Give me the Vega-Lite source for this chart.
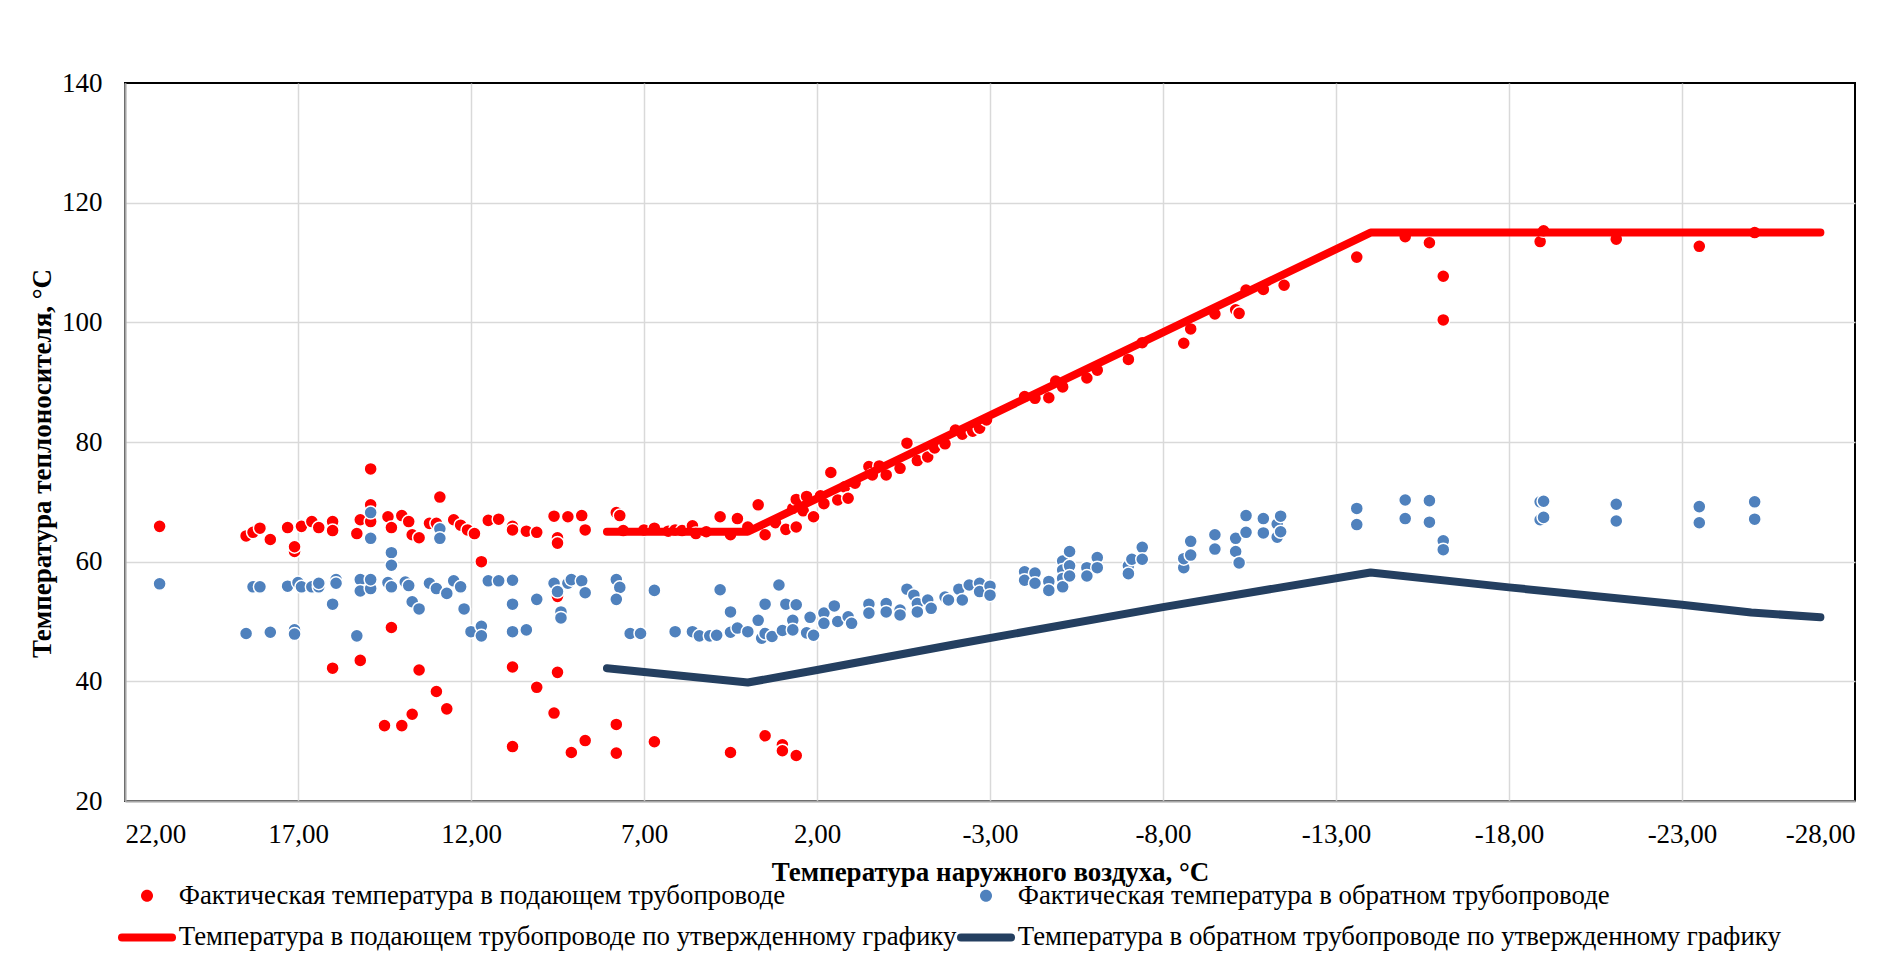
{
  "$schema": "https://vega.github.io/schema/vega-lite/v6.json",
  "width": 1730,
  "height": 718,
  "autosize": {"type": "none"},
  "padding": {"left": 125, "top": 83, "right": 37, "bottom": 172},
  "background": "white",
  "config": {
    "font": "Liberation Serif",
    "view": {"stroke": "#000000", "strokeWidth": 2},
    "axis": {
      "gridColor": "#D9D9D9", "gridWidth": 1.5,
      "domainColor": "#A6A6A6", "domainWidth": 2,
      "ticks": false,
      "labelFont": "Liberation Serif", "labelFontSize": 27, "labelColor": "#000000",
      "titleFont": "Liberation Serif", "titleFontSize": 27, "titleFontWeight": "bold", "titleColor": "#000000"
    }
  },
  "datasets": {
    "fact": [
      {"t":21.0,"v":65.9,"s":"A"},{"t":18.5,"v":64.3,"s":"A"},{"t":18.3,"v":64.9,"s":"A"},{"t":18.1,"v":65.6,"s":"A"},
      {"t":17.8,"v":63.7,"s":"A"},{"t":17.3,"v":65.7,"s":"A"},{"t":17.1,"v":61.7,"s":"A"},{"t":17.1,"v":62.5,"s":"A"},
      {"t":16.9,"v":65.9,"s":"A"},{"t":16.6,"v":66.7,"s":"A"},{"t":16.4,"v":65.7,"s":"A"},{"t":16.0,"v":66.1,"s":"A"},
      {"t":16.0,"v":66.7,"s":"A"},{"t":16.0,"v":65.2,"s":"A"},{"t":15.3,"v":64.7,"s":"A"},{"t":15.2,"v":67.0,"s":"A"},
      {"t":14.9,"v":75.5,"s":"A"},{"t":14.9,"v":69.5,"s":"A"},{"t":14.9,"v":66.7,"s":"A"},{"t":14.4,"v":67.5,"s":"A"},
      {"t":14.3,"v":65.7,"s":"A"},{"t":14.0,"v":67.7,"s":"A"},{"t":13.8,"v":66.7,"s":"A"},{"t":13.7,"v":64.5,"s":"A"},
      {"t":13.5,"v":64.0,"s":"A"},{"t":13.2,"v":66.4,"s":"A"},{"t":12.9,"v":70.8,"s":"A"},{"t":13.0,"v":66.4,"s":"A"},
      {"t":12.5,"v":67.0,"s":"A"},{"t":12.3,"v":66.1,"s":"A"},{"t":12.1,"v":65.3,"s":"A"},{"t":11.9,"v":64.7,"s":"A"},
      {"t":11.7,"v":60.0,"s":"A"},{"t":11.5,"v":66.9,"s":"A"},{"t":11.2,"v":67.1,"s":"A"},{"t":10.8,"v":65.9,"s":"A"},
      {"t":10.8,"v":65.3,"s":"A"},{"t":10.4,"v":65.1,"s":"A"},{"t":10.1,"v":64.9,"s":"A"},{"t":9.6,"v":67.6,"s":"A"},
      {"t":9.5,"v":64.0,"s":"A"},{"t":9.5,"v":63.1,"s":"A"},{"t":9.2,"v":67.5,"s":"A"},{"t":8.8,"v":67.7,"s":"A"},
      {"t":8.7,"v":65.3,"s":"A"},{"t":7.8,"v":68.2,"s":"A"},{"t":7.7,"v":67.7,"s":"A"},{"t":7.6,"v":65.2,"s":"A"},
      {"t":7.0,"v":65.3,"s":"A"},{"t":9.5,"v":54.2,"s":"A"},{"t":16.0,"v":42.2,"s":"A"},{"t":15.2,"v":43.5,"s":"A"},
      {"t":14.3,"v":49.0,"s":"A"},{"t":13.5,"v":41.9,"s":"A"},{"t":13.0,"v":38.3,"s":"A"},{"t":12.7,"v":35.4,"s":"A"},
      {"t":13.7,"v":34.5,"s":"A"},{"t":14.0,"v":32.6,"s":"A"},{"t":14.5,"v":32.6,"s":"A"},{"t":10.8,"v":42.4,"s":"A"},
      {"t":10.1,"v":39.0,"s":"A"},{"t":9.6,"v":34.7,"s":"A"},{"t":9.5,"v":41.5,"s":"A"},{"t":10.8,"v":29.1,"s":"A"},
      {"t":9.1,"v":28.1,"s":"A"},{"t":8.7,"v":30.1,"s":"A"},{"t":7.8,"v":32.8,"s":"A"},{"t":7.8,"v":28.0,"s":"A"},
      {"t":6.7,"v":65.6,"s":"A"},{"t":6.3,"v":65.1,"s":"A"},{"t":6.1,"v":65.3,"s":"A"},{"t":5.9,"v":65.2,"s":"A"},
      {"t":5.6,"v":66.0,"s":"A"},{"t":5.5,"v":64.7,"s":"A"},{"t":5.2,"v":65.0,"s":"A"},{"t":4.8,"v":67.5,"s":"A"},
      {"t":4.5,"v":64.5,"s":"A"},{"t":4.3,"v":67.2,"s":"A"},{"t":4.0,"v":65.8,"s":"A"},{"t":3.7,"v":69.5,"s":"A"},
      {"t":3.5,"v":64.5,"s":"A"},{"t":3.2,"v":66.5,"s":"A"},{"t":2.9,"v":65.4,"s":"A"},{"t":2.7,"v":68.9,"s":"A"},
      {"t":2.6,"v":70.4,"s":"A"},{"t":2.6,"v":65.8,"s":"A"},{"t":2.4,"v":68.5,"s":"A"},{"t":2.3,"v":70.9,"s":"A"},
      {"t":2.1,"v":67.5,"s":"A"},{"t":1.9,"v":71.0,"s":"A"},{"t":1.8,"v":69.7,"s":"A"},{"t":1.6,"v":74.9,"s":"A"},
      {"t":1.4,"v":70.3,"s":"A"},{"t":1.2,"v":72.5,"s":"A"},{"t":1.1,"v":70.6,"s":"A"},{"t":0.9,"v":73.1,"s":"A"},
      {"t":0.5,"v":75.9,"s":"A"},{"t":0.4,"v":74.5,"s":"A"},{"t":0.2,"v":76.0,"s":"A"},{"t":0.0,"v":74.5,"s":"A"},
      {"t":-0.4,"v":75.6,"s":"A"},{"t":-0.6,"v":79.8,"s":"A"},{"t":-0.9,"v":76.9,"s":"A"},{"t":-1.2,"v":77.5,"s":"A"},
      {"t":-1.4,"v":79.0,"s":"A"},{"t":-1.7,"v":79.7,"s":"A"},{"t":-2.0,"v":82.0,"s":"A"},{"t":-2.2,"v":81.3,"s":"A"},
      {"t":-2.5,"v":81.8,"s":"A"},{"t":-2.7,"v":82.3,"s":"A"},{"t":-2.9,"v":83.7,"s":"A"},{"t":-4.0,"v":87.6,"s":"A"},
      {"t":-4.3,"v":87.3,"s":"A"},{"t":-4.7,"v":87.4,"s":"A"},{"t":-4.9,"v":90.2,"s":"A"},{"t":-5.1,"v":89.2,"s":"A"},
      {"t":-5.8,"v":90.7,"s":"A"},{"t":-6.1,"v":92.0,"s":"A"},{"t":-7.0,"v":93.8,"s":"A"},{"t":-7.4,"v":96.6,"s":"A"},
      {"t":6.7,"v":29.9,"s":"A"},{"t":4.5,"v":28.1,"s":"A"},{"t":3.5,"v":30.9,"s":"A"},{"t":3.0,"v":29.4,"s":"A"},
      {"t":3.0,"v":28.4,"s":"A"},{"t":2.6,"v":27.6,"s":"A"},{"t":-8.6,"v":96.5,"s":"A"},{"t":-8.8,"v":98.9,"s":"A"},
      {"t":-9.5,"v":101.4,"s":"A"},{"t":-10.1,"v":102.1,"s":"A"},{"t":-10.2,"v":101.5,"s":"A"},{"t":-10.4,"v":105.4,"s":"A"},
      {"t":-10.9,"v":105.5,"s":"A"},{"t":-11.5,"v":106.2,"s":"A"},{"t":-13.6,"v":110.9,"s":"A"},{"t":-15.0,"v":114.3,"s":"A"},
      {"t":-15.7,"v":113.3,"s":"A"},{"t":-16.1,"v":107.7,"s":"A"},{"t":-16.1,"v":100.4,"s":"A"},{"t":-18.9,"v":113.5,"s":"A"},
      {"t":-19.0,"v":115.3,"s":"A"},{"t":-21.1,"v":113.9,"s":"A"},{"t":-23.5,"v":112.7,"s":"A"},{"t":-25.1,"v":115.0,"s":"A"},
      {"t":21.0,"v":56.3,"s":"B"},{"t":18.5,"v":48.0,"s":"B"},{"t":18.3,"v":55.8,"s":"B"},{"t":18.1,"v":55.8,"s":"B"},
      {"t":17.8,"v":48.2,"s":"B"},{"t":17.3,"v":55.9,"s":"B"},{"t":17.1,"v":48.6,"s":"B"},{"t":17.1,"v":47.9,"s":"B"},
      {"t":17.0,"v":56.5,"s":"B"},{"t":16.9,"v":55.8,"s":"B"},{"t":16.6,"v":55.8,"s":"B"},{"t":16.4,"v":55.8,"s":"B"},
      {"t":16.4,"v":56.4,"s":"B"},{"t":16.0,"v":52.9,"s":"B"},{"t":15.9,"v":57.0,"s":"B"},{"t":15.9,"v":56.4,"s":"B"},
      {"t":15.3,"v":47.6,"s":"B"},{"t":15.2,"v":57.0,"s":"B"},{"t":15.2,"v":55.1,"s":"B"},{"t":14.9,"v":68.2,"s":"B"},
      {"t":14.9,"v":63.9,"s":"B"},{"t":14.9,"v":55.5,"s":"B"},{"t":14.9,"v":57.0,"s":"B"},{"t":14.4,"v":56.5,"s":"B"},
      {"t":14.3,"v":55.8,"s":"B"},{"t":14.3,"v":61.5,"s":"B"},{"t":14.3,"v":59.4,"s":"B"},{"t":13.9,"v":56.6,"s":"B"},
      {"t":13.8,"v":56.0,"s":"B"},{"t":13.7,"v":53.3,"s":"B"},{"t":13.5,"v":52.1,"s":"B"},{"t":13.2,"v":56.4,"s":"B"},
      {"t":13.0,"v":55.5,"s":"B"},{"t":12.9,"v":65.5,"s":"B"},{"t":12.9,"v":63.9,"s":"B"},{"t":12.7,"v":54.7,"s":"B"},
      {"t":12.5,"v":56.8,"s":"B"},{"t":12.3,"v":55.8,"s":"B"},{"t":12.2,"v":52.1,"s":"B"},{"t":12.0,"v":48.3,"s":"B"},
      {"t":11.7,"v":49.2,"s":"B"},{"t":11.7,"v":47.6,"s":"B"},{"t":11.5,"v":56.8,"s":"B"},{"t":11.2,"v":56.8,"s":"B"},
      {"t":10.8,"v":56.9,"s":"B"},{"t":10.8,"v":52.9,"s":"B"},{"t":10.8,"v":48.3,"s":"B"},{"t":10.4,"v":48.6,"s":"B"},
      {"t":10.1,"v":53.7,"s":"B"},{"t":9.6,"v":56.4,"s":"B"},{"t":9.5,"v":55.0,"s":"B"},{"t":9.4,"v":51.6,"s":"B"},
      {"t":9.4,"v":50.6,"s":"B"},{"t":9.2,"v":56.4,"s":"B"},{"t":9.1,"v":57.0,"s":"B"},{"t":8.8,"v":56.8,"s":"B"},
      {"t":8.7,"v":54.8,"s":"B"},{"t":7.8,"v":57.0,"s":"B"},{"t":7.7,"v":55.7,"s":"B"},{"t":7.8,"v":53.7,"s":"B"},
      {"t":7.4,"v":48.0,"s":"B"},{"t":7.1,"v":48.0,"s":"B"},{"t":6.7,"v":55.2,"s":"B"},{"t":6.1,"v":48.3,"s":"B"},
      {"t":5.6,"v":48.3,"s":"B"},{"t":5.4,"v":47.6,"s":"B"},{"t":5.1,"v":47.6,"s":"B"},{"t":4.9,"v":47.7,"s":"B"},
      {"t":4.8,"v":55.3,"s":"B"},{"t":4.5,"v":51.6,"s":"B"},{"t":4.5,"v":48.2,"s":"B"},{"t":4.3,"v":48.9,"s":"B"},
      {"t":4.0,"v":48.3,"s":"B"},{"t":3.7,"v":50.2,"s":"B"},{"t":3.6,"v":47.2,"s":"B"},{"t":3.5,"v":52.9,"s":"B"},
      {"t":3.5,"v":48.0,"s":"B"},{"t":3.3,"v":47.5,"s":"B"},{"t":3.1,"v":56.1,"s":"B"},{"t":3.0,"v":48.5,"s":"B"},
      {"t":2.9,"v":52.9,"s":"B"},{"t":2.7,"v":50.2,"s":"B"},{"t":2.7,"v":48.6,"s":"B"},{"t":2.6,"v":52.8,"s":"B"},
      {"t":2.3,"v":48.1,"s":"B"},{"t":2.2,"v":50.7,"s":"B"},{"t":2.1,"v":47.7,"s":"B"},{"t":1.8,"v":51.4,"s":"B"},
      {"t":1.8,"v":49.7,"s":"B"},{"t":1.5,"v":52.6,"s":"B"},{"t":1.4,"v":50.0,"s":"B"},{"t":1.1,"v":50.8,"s":"B"},
      {"t":1.0,"v":49.7,"s":"B"},{"t":0.5,"v":52.9,"s":"B"},{"t":0.5,"v":51.4,"s":"B"},{"t":0.0,"v":53.0,"s":"B"},
      {"t":0.0,"v":51.6,"s":"B"},{"t":-0.4,"v":51.9,"s":"B"},{"t":-0.4,"v":51.1,"s":"B"},{"t":-0.6,"v":55.4,"s":"B"},
      {"t":-0.8,"v":54.4,"s":"B"},{"t":-0.9,"v":53.0,"s":"B"},{"t":-0.9,"v":51.6,"s":"B"},{"t":-1.2,"v":53.6,"s":"B"},
      {"t":-1.3,"v":52.2,"s":"B"},{"t":-1.7,"v":54.1,"s":"B"},{"t":-1.8,"v":53.6,"s":"B"},{"t":-2.1,"v":55.4,"s":"B"},
      {"t":-2.2,"v":53.6,"s":"B"},{"t":-2.4,"v":56.1,"s":"B"},{"t":-2.7,"v":56.4,"s":"B"},{"t":-2.7,"v":55.0,"s":"B"},
      {"t":-3.0,"v":55.9,"s":"B"},{"t":-3.0,"v":54.4,"s":"B"},{"t":-4.0,"v":58.3,"s":"B"},{"t":-4.0,"v":56.9,"s":"B"},
      {"t":-4.3,"v":58.1,"s":"B"},{"t":-4.3,"v":56.4,"s":"B"},{"t":-4.7,"v":56.7,"s":"B"},{"t":-4.7,"v":55.2,"s":"B"},
      {"t":-5.1,"v":60.1,"s":"B"},{"t":-5.1,"v":58.6,"s":"B"},{"t":-5.1,"v":57.2,"s":"B"},{"t":-5.1,"v":55.8,"s":"B"},
      {"t":-5.3,"v":61.7,"s":"B"},{"t":-5.3,"v":59.3,"s":"B"},{"t":-5.3,"v":57.6,"s":"B"},{"t":-5.8,"v":59.0,"s":"B"},
      {"t":-5.8,"v":57.6,"s":"B"},{"t":-6.1,"v":60.7,"s":"B"},{"t":-6.1,"v":59.0,"s":"B"},{"t":-7.0,"v":59.3,"s":"B"},
      {"t":-7.0,"v":58.0,"s":"B"},{"t":-7.1,"v":60.4,"s":"B"},{"t":-7.4,"v":62.4,"s":"B"},{"t":-7.4,"v":60.4,"s":"B"},
      {"t":-8.6,"v":59.0,"s":"B"},{"t":-8.6,"v":60.5,"s":"B"},{"t":-8.8,"v":61.1,"s":"B"},{"t":-8.8,"v":63.4,"s":"B"},
      {"t":-9.5,"v":64.5,"s":"B"},{"t":-9.5,"v":62.1,"s":"B"},{"t":-10.1,"v":63.9,"s":"B"},{"t":-10.1,"v":61.7,"s":"B"},
      {"t":-10.2,"v":59.8,"s":"B"},{"t":-10.4,"v":67.7,"s":"B"},{"t":-10.4,"v":64.9,"s":"B"},{"t":-10.9,"v":67.2,"s":"B"},
      {"t":-10.9,"v":64.8,"s":"B"},{"t":-11.3,"v":66.3,"s":"B"},{"t":-11.3,"v":64.1,"s":"B"},{"t":-11.4,"v":67.6,"s":"B"},
      {"t":-11.4,"v":65.0,"s":"B"},{"t":-13.6,"v":68.9,"s":"B"},{"t":-13.6,"v":66.2,"s":"B"},{"t":-15.0,"v":70.3,"s":"B"},
      {"t":-15.0,"v":67.2,"s":"B"},{"t":-15.7,"v":70.2,"s":"B"},{"t":-15.7,"v":66.6,"s":"B"},{"t":-16.1,"v":63.5,"s":"B"},
      {"t":-16.1,"v":62.0,"s":"B"},{"t":-18.9,"v":70.0,"s":"B"},{"t":-19.0,"v":70.1,"s":"B"},{"t":-18.9,"v":67.0,"s":"B"},
      {"t":-19.0,"v":67.4,"s":"B"},{"t":-21.1,"v":69.6,"s":"B"},{"t":-21.1,"v":66.8,"s":"B"},{"t":-23.5,"v":69.2,"s":"B"},
      {"t":-23.5,"v":66.5,"s":"B"},{"t":-25.1,"v":70.0,"s":"B"},{"t":-25.1,"v":67.1,"s":"B"}
    ],
    "sched": [
      {"t":8.07,"v":65.0,"s":"C"},{"t":4.0,"v":65.0,"s":"C"},{"t":-14.0,"v":115.0,"s":"C"},{"t":-27.0,"v":115.0,"s":"C"},
      {"t":8.07,"v":42.2,"s":"D"},{"t":4.0,"v":39.8,"s":"D"},{"t":2.0,"v":41.9,"s":"D"},{"t":-2.0,"v":46.2,"s":"D"},
      {"t":-8.0,"v":52.4,"s":"D"},{"t":-14.0,"v":58.2,"s":"D"},{"t":-18.0,"v":55.7,"s":"D"},{"t":-23.0,"v":52.8,"s":"D"},
      {"t":-25.0,"v":51.5,"s":"D"},{"t":-27.0,"v":50.7,"s":"D"}
    ]
  },
  "encoding": {
    "x": {
      "field": "t", "type": "quantitative",
      "scale": {"domain": [22, -28], "nice": false, "zero": false},
      "axis": {
        "values": [22, 17, 12, 7, 2, -3, -8, -13, -18, -23, -28],
        "labelExpr": "replace(replace(format(datum.value, '.2f'), '.', ','), '\u2212', '-')",
        "labelPadding": 20,
        "gridOpacity": {"condition": {"test": "datum.value == -28", "value": 0}, "value": 1},
        "title": "Температура наружного воздуха, °С",
        "titleY": 71, "titleBaseline": "middle"
      }
    },
    "y": {
      "field": "v", "type": "quantitative",
      "scale": {"domain": [20, 140], "nice": false, "zero": false},
      "axis": {
        "values": [20, 40, 60, 80, 100, 120, 140],
        "labelPadding": 23,
        "gridOpacity": {"condition": {"test": "datum.value == 140", "value": 0}, "value": 1},
        "title": "Температура теплоносителя, °С",
        "titleX": -83, "titleY": 380, "titleBaseline": "middle", "titleAngle": -90
      }
    },
    "color": {
      "field": "s", "type": "nominal",
      "scale": {"domain": ["A", "B", "C", "D"], "range": ["#FF0000", "#4F81BD", "#FF0000", "#243F60"]},
      "legend": {
        "orient": "none", "legendX": -7, "legendY": 798,
        "direction": "horizontal", "columns": 2, "title": null,
        "gridAlign": "all",
        "symbolSize": 2500, "symbolStrokeWidth": 8,
        "labelFont": "Liberation Serif", "labelFontSize": 26.8, "labelColor": "#000000", "labelLimit": 1200,
        "labelOffset": 34, "columnPadding": -13, "rowPadding": 10,
        "labelExpr": "datum.value == 'A' ? 'Фактическая температура в подающем трубопроводе' : datum.value == 'B' ? 'Фактическая температура в обратном трубопроводе' : datum.value == 'C' ? 'Температура в подающем трубопроводе по утвержденному графику' : 'Температура в обратном трубопроводе по утвержденному графику'",
        "encode": {
          "symbols": {
            "update": {
              "x": {"value": 29},
              "shape": {"signal": "datum.value == 'A' || datum.value == 'B' ? 'M0.24,0A0.24,0.24,0,1,1,-0.24,0A0.24,0.24,0,1,1,0.24,0Z' : 'stroke'"},
              "strokeWidth": {"signal": "datum.value == 'A' || datum.value == 'B' ? 0 : 8"},
              "stroke": {"scale": "color", "field": "value"},
              "fill": {"scale": "color", "field": "value"},
              "strokeCap": {"value": "round"},
              "opacity": {"value": 1}
            }
          }
        }
      }
    }
  },
  "layer": [
    {
      "data": {"name": "fact"},
      "mark": {"type": "point", "filled": true, "size": 170, "stroke": "white", "strokeWidth": 1.5, "opacity": 1}
    },
    {
      "data": {"name": "sched"},
      "mark": {"type": "line", "strokeWidth": 8, "strokeCap": "round", "strokeJoin": "round"}
    }
  ]
}
